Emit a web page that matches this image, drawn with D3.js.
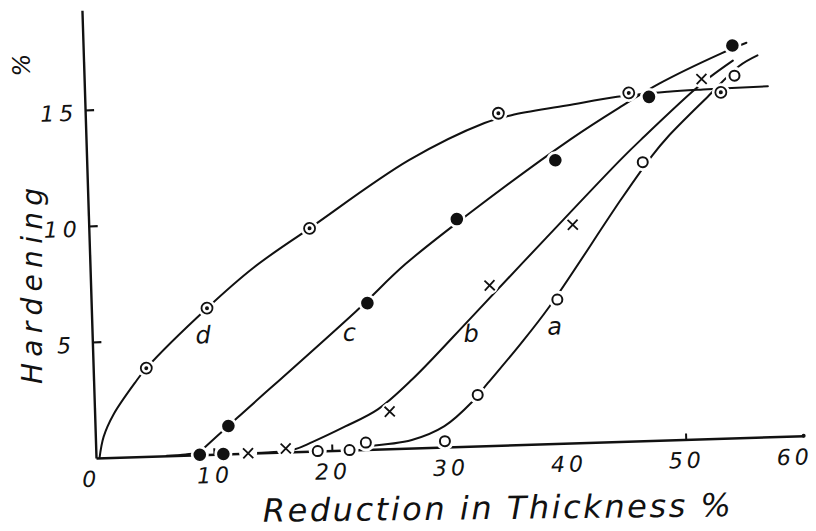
<!DOCTYPE html>
<html><head><meta charset="utf-8">
<script src="https://cdn.jsdelivr.net/npm/d3@7"></script>
<style>
html,body{margin:0;padding:0;background:#fff;}
svg{display:block;background:#fff;}
text{font-family:"DejaVu Sans",sans-serif;font-style:italic;fill:#111;}
</style></head><body>
<svg id="chart" width="816" height="531"></svg>
<script>
// ---- data ----
const xTicks = [0, 10, 20, 30, 40, 50, 60];
const yTicks = [5, 10, 15];
const curveNames = ["a", "b", "c", "d"];

// measured points (reduction %, hardening %)
const pointsA = [[18.8,0],[21.5,0],[22.9,0.3],[29.6,0.25],[32.5,2.2],[39.5,6.2],[47.1,12.0],[55.1,15.6]];
const pointsB = [[12.9,0],[16.1,0.15],[25.0,1.6],[33.8,6.9],[41.0,9.4],[52.3,15.5]];
const pointsC = [[8.8,0],[10.8,0],[11.3,1.2],[23.4,6.3],[31.2,9.8],[39.7,12.2],[47.8,14.8],[55.0,16.9]];
const pointsD = [[4.5,3.8],[9.8,6.3],[18.7,9.6],[35.0,14.3],[46.1,15.0],[53.9,14.9]];

// hand-fitted curves
const curveA = [[23.0,0.15],[26.8,0.35],[29.6,0.9],[32.0,1.9],[33.4,2.7],[36.2,4.3],[38.8,5.9],[45.2,10.45],[47.9,12.26],[49.3,13.06],[52.8,14.74],[55.5,16.0],[57.1,16.44]];
const curveB = [[13.5,0],[16.8,0.1],[18.4,0.4],[21.2,1.02],[24.0,1.71],[27.0,2.96],[32.2,5.56],[38.7,8.86],[45.3,12.17],[47.3,13.1],[51.5,14.97],[53.1,15.6],[55.0,16.25]];
const curveC = [[6.0,0],[7.6,0.03],[8.8,0.12],[9.3,0.34],[11.3,1.2],[12.1,1.55],[22.4,5.96],[26.7,7.92],[32.2,10.0],[41.1,13.1],[45.5,14.45],[48.7,15.36],[54.0,16.57],[56.2,17.0]];
const curveD = [[0.3,0],[0.7,0.9],[1.6,1.85],[3.6,3.25],[4.5,3.8],[9.8,6.3],[13.9,8.0],[18.7,9.6],[27.3,12.4],[33.8,13.9],[36.1,14.2],[40.8,14.54],[45.1,14.85],[49.4,15.0],[52.4,15.05],[57.9,15.1]];

// curve letter anchors (data coords)
const labelPos = {a:[39.2,4.7], b:[32.1,4.5], c:[21.8,4.7], d:[9.4,4.8]};

const xTitle = "Reduction in Thickness %";
const yTitle = "Hardening";
const yUnit = "%";

// ---- drawing ----
const svg = d3.select("#chart");
const x = d3.scaleLinear().domain([0, 60]).range([96, 804]);
const y = d3.scaleLinear().domain([0, 19.3]).range([458, 10]);

// whole plot slightly rotated like the scanned drawing
const g = svg.append("g").attr("transform", "rotate(-1.8, 96, 458)");

const gx = g.append("g").attr("transform", `translate(0,${y(0)})`)
  .call(d3.axisBottom(x).tickValues(xTicks).tickSize(-6).tickSizeOuter(0).tickPadding(13).tickFormat(d3.format("d")));
gx.select(".domain").attr("stroke", "#111").attr("stroke-width", 2.4);
gx.selectAll(".tick line").attr("stroke", "#111").attr("stroke-width", 2)
  .attr("opacity", d => (d === 0 || d === 40 || d === 60) ? 0 : 1);
gx.selectAll(".tick text").attr("font-size", 22).attr("letter-spacing", 4)
  .attr("dx", d => d === 0 ? -6 : (d === 60 ? -10 : 0))
  .attr("font-family", "DejaVu Sans").attr("font-style", "italic").attr("fill", "#111");

const gy = g.append("g").attr("transform", `translate(${x(0)},0)`)
  .call(d3.axisLeft(y).tickValues(yTicks).tickSize(-9).tickSizeOuter(0).tickPadding(0));
gy.select(".domain").attr("stroke", "#111").attr("stroke-width", 2.4);
gy.selectAll(".tick line").attr("stroke", "#111").attr("stroke-width", 2.2);
gy.selectAll(".tick text").attr("font-size", 22).attr("letter-spacing", 5)
  .attr("text-anchor", "middle").attr("x", -26).attr("dy", "0.45em")
  .attr("font-family", "DejaVu Sans").attr("font-style", "italic").attr("fill", "#111");

g.append("circle").attr("cx", x(60)).attr("cy", y(0)).attr("r", 2).attr("fill", "#111");

const line = d3.line().x(d => x(d[0])).y(d => y(d[1])).curve(d3.curveCatmullRom.alpha(0.5));
const curves = {a: curveA, b: curveB, c: curveC, d: curveD};
const points = {a: pointsA, b: pointsB, c: pointsC, d: pointsD};

curveNames.forEach(n => {
  g.append("path").datum(curves[n]).attr("d", line)
    .attr("fill", "none").attr("stroke", "#111").attr("stroke-width", 2)
    .attr("stroke-linecap", "round");
});

// white gaps around markers (as in the hand drawing)
curveNames.forEach(n => {
  g.append("g").selectAll("circle").data(points[n]).join("circle")
    .attr("cx", d => x(d[0])).attr("cy", d => y(d[1])).attr("r", 9).attr("fill", "#fff");
});

// markers
g.append("g").selectAll("circle").data(pointsA).join("circle")
  .attr("cx", d => x(d[0])).attr("cy", d => y(d[1])).attr("r", 5)
  .attr("fill", "#fff").attr("stroke", "#111").attr("stroke-width", 2);

g.append("g").selectAll("path").data(pointsB).join("path")
  .attr("d", d => { const cx = x(d[0]), cy = y(d[1]), s = 5;
    return `M${cx-s},${cy-s}L${cx+s},${cy+s}M${cx+s},${cy-s}L${cx-s},${cy+s}`; })
  .attr("stroke", "#111").attr("stroke-width", 1.8).attr("fill", "none");

g.append("g").selectAll("circle").data(pointsC).join("circle")
  .attr("cx", d => x(d[0])).attr("cy", d => y(d[1])).attr("r", 6.3).attr("fill", "#111");

const gd = g.append("g");
gd.selectAll("circle.o").data(pointsD).join("circle").attr("class", "o")
  .attr("cx", d => x(d[0])).attr("cy", d => y(d[1])).attr("r", 5.5)
  .attr("fill", "#fff").attr("stroke", "#111").attr("stroke-width", 1.8);
gd.selectAll("circle.i").data(pointsD).join("circle").attr("class", "i")
  .attr("cx", d => x(d[0])).attr("cy", d => y(d[1])).attr("r", 2).attr("fill", "#111");

// curve letters
curveNames.forEach(n => {
  g.append("text").attr("x", x(labelPos[n][0])).attr("y", y(labelPos[n][1]))
    .attr("text-anchor", "middle").attr("font-size", 24).text(n);
});

// titles
svg.append("text").attr("transform", "translate(497,519) rotate(-0.7)")
  .attr("text-anchor", "middle").attr("font-size", 32)
  .attr("textLength", 468).attr("lengthAdjust", "spacing").text(xTitle);

svg.append("text").attr("transform", "translate(42,286) rotate(-90)")
  .attr("text-anchor", "middle").attr("font-size", 28)
  .attr("textLength", 196).attr("lengthAdjust", "spacing").text(yTitle);

svg.append("text").attr("transform", "translate(30,65) rotate(-90)")
  .attr("text-anchor", "middle").attr("font-size", 24).text(yUnit);
</script>
</body></html>
